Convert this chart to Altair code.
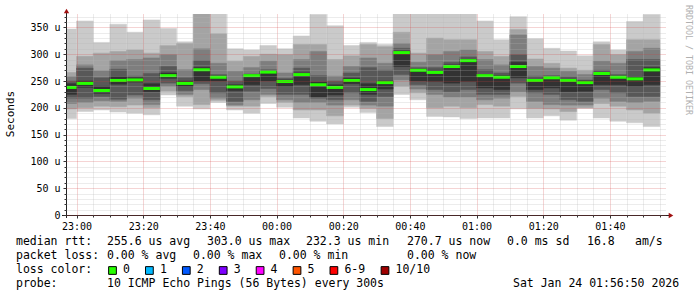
import altair as alt
import pandas as pd

# ---------------- data ----------------
slot_start = ["22:55", "23:00", "23:05", "23:10", "23:15", "23:20", "23:25", "23:30", "23:35",
              "23:40", "23:45", "23:50", "23:55", "00:00", "00:05", "00:10", "00:15", "00:20",
              "00:25", "00:30", "00:35", "00:40", "00:45", "00:50", "00:55", "01:00", "01:05",
              "01:10", "01:15", "01:20", "01:25", "01:30", "01:35", "01:40", "01:45", "01:50"]

# sorted ping rtts (us) per 5 minute slot
ping1 = [180, 193, 196, 192, 190, 187, 224, 203, 198, 210, 196, 190, 208, 201, 181, 175, 170, 201,
         191, 165, 225, 215, 184, 183, 180, 181, 181, 198, 181, 185, 177, 199, 181, 175, 172, 165]
ping2 = [198, 200, 203, 202, 205, 200, 231, 221, 206, 214, 203, 203, 221, 210, 196, 196, 185, 205,
         199, 180, 240, 228, 200, 203, 200, 206, 203, 221, 199, 198, 193, 200, 208, 203, 196, 190]
ping3 = [208, 210, 213, 212, 218, 206, 240, 225, 234, 218, 205, 215, 225, 215, 210, 210, 205, 215,
         205, 203, 252, 235, 225, 220, 220, 215, 218, 230, 212, 206, 205, 205, 218, 212, 210, 212]
ping4 = [218, 218, 221, 216, 224, 215, 246, 232, 245, 228, 212, 231, 236, 225, 225, 218, 215, 228,
         212, 221, 262, 243, 234, 230, 234, 225, 225, 246, 228, 225, 215, 212, 234, 228, 221, 221]
ping5 = [225, 238, 227, 244, 248, 230, 255, 240, 250, 250, 232, 243, 250, 240, 243, 220, 224, 245,
         225, 235, 277, 250, 249, 246, 249, 237, 234, 256, 234, 237, 230, 231, 243, 243, 240, 243]
ping6 = [245, 250, 240, 258, 256, 245, 265, 250, 275, 259, 243, 262, 268, 252, 265, 248, 243, 255,
         245, 250, 306, 272, 270, 280, 290, 262, 260, 285, 253, 258, 253, 250, 266, 259, 258, 275]
ping7 = [250, 274, 256, 272, 259, 264, 277, 256, 288, 262, 250, 263, 271, 255, 274, 260, 250, 265,
         275, 270, 311, 275, 275, 285, 295, 271, 265, 299, 259, 260, 258, 252, 270, 262, 290, 290]
ping8 = [258, 280, 269, 288, 290, 293, 299, 271, 310, 283, 268, 275, 287, 265, 290, 305, 259, 277,
         293, 283, 320, 285, 299, 305, 308, 290, 280, 336, 277, 274, 268, 262, 287, 283, 305, 311]
ping9 = [266, 296, 302, 305, 308, 302, 316, 320, 385, 338, 287, 296, 300, 299, 318, 318, 290, 297,
         318, 314, 341, 302, 330, 327, 327, 305, 296, 346, 291, 283, 274, 270, 318, 299, 327, 327]
ping10 = [347, 362, 322, 356, 341, 364, 348, 323, 420, 385, 310, 308, 316, 310, 334, 374, 353, 316,
          322, 318, 390, 390, 390, 390, 390, 362, 327, 370, 329, 311, 306, 297, 323, 308, 361, 374]
median = [238, 245.5, 232.3, 251, 252, 236, 260, 245.5, 271, 257, 239, 260, 266.6, 249, 262, 243,
          238, 251, 234, 247, 303.0, 270, 266, 277, 288, 260, 257, 277, 251, 256, 251, 247, 264, 257,
          254, 270.7]

x_tick_labels = ["23:00", "23:20", "23:40", "00:00", "00:20", "00:40", "01:00", "01:20", "01:40"]
y_tick_values = [0, 50, 100, 150, 200, 250, 300, 350]
y_tick_labels = ["0", "50 u", "100 u", "150 u", "200 u", "250 u", "300 u", "350 u"]

range_start = "22:56:50"
range_end = "01:56:50"
step_minutes = 5

smoke_colors = ["#cacaca", "#a4a4a4", "#7e7e7e", "#585858", "#323232"]
loss_labels = ["0", "1", "2", "3", "4", "5", "6-9", "10/10"]
loss_colors = ["#26ff00", "#00b8ff", "#0059ff", "#7e00ff", "#ff00ff", "#ff5500", "#ff0000", "#a00000"]

legend_rtt = ["median rtt:", "255.6 us avg", "303.0 us max", "232.3 us min", "270.7 us now",
              "0.0 ms sd", "16.8", "am/s"]
legend_loss = ["packet loss:", "0.00 % avg", "0.00 % max", "0.00 % min", "0.00 % now"]
legend_probe = ["probe:", "10 ICMP Echo Pings (56 Bytes) every 300s", "Sat Jan 24 01:56:50 2026"]


# ---------------- helpers ----------------
def to_min(s):
    parts = [int(p) for p in s.split(":")]
    h, m = parts[0], parts[1]
    sec = parts[2] if len(parts) > 2 else 0
    t = h * 60 + m + sec / 60.0
    if h < 12:
        t += 1440
    return t - 23 * 60


starts = [to_min(s) for s in slot_start]
ends = [s + step_minutes for s in starts]
x_lo, x_hi = to_min(range_start), to_min(range_end)
x_major = [to_min(s) for s in x_tick_labels]
x_minor = [v for v in range(0, int(x_hi), step_minutes) if v not in x_major]
y_minor = [v for v in range(10, 375, 10) if v not in y_tick_values]

pings = [ping1, ping2, ping3, ping4, ping5, ping6, ping7, ping8, ping9, ping10]

W, H = 600, 201
PAD_L, PAD_T = 66, 14

xscale = alt.Scale(domain=[x_lo, x_hi], nice=False, zero=False)
yscale = alt.Scale(domain=[0, 375], nice=False, zero=False)

FONT = "DejaVu Sans Mono"

x_lab_js = "[" + ",".join("'%s'" % s for s in x_tick_labels) + "]"
x_val_js = "[" + ",".join(str(v) for v in x_major) + "]"
y_lab_js = "[" + ",".join("'%s'" % s for s in y_tick_labels) + "]"
y_val_js = "[" + ",".join(str(v) for v in y_tick_values) + "]"

minor_x_axis = alt.Axis(values=x_minor, grid=True, gridColor="#b4b4b4", gridOpacity=0.5,
                        gridDash=[1, 1], labels=False, ticks=True, tickSize=2, tickColor="#333333",
                        domain=False, title=None, orient="bottom", zindex=1)
minor_y_axis = alt.Axis(values=y_minor, grid=True, gridColor="#b4b4b4", gridOpacity=0.5,
                        gridDash=[1, 1], labels=False, ticks=True, tickSize=2, tickColor="#333333",
                        domain=False, title=None, orient="left", zindex=1)
major_x_axis = alt.Axis(values=x_major, labelExpr=f"{x_lab_js}[indexof({x_val_js}, datum.value)]",
                        grid=True, gridColor="#d04040", gridOpacity=0.45, gridDash=[1, 1],
                        ticks=True, tickSize=3, tickColor="#333333", labelFont=FONT,
                        labelFontSize=10, labelColor="#000000", labelPadding=3, domain=False,
                        title=None, orient="bottom", zindex=1, labelFlush=False)
major_y_axis = alt.Axis(values=y_tick_values, labelExpr=f"{y_lab_js}[indexof({y_val_js}, datum.value)]",
                        grid=True, gridColor="#d04040", gridOpacity=0.45, gridDash=[1, 1],
                        ticks=True, tickSize=3, tickColor="#333333", labelFont=FONT,
                        labelFontSize=10, labelColor="#000000", labelPadding=3, domain=False,
                        title=None, orient="left", zindex=1, labelFlush=False)

df_med = pd.DataFrame({"start": starts, "end": ends, "median": median})

layers = []
# grid-only layer (minor grid)
layers.append(
    alt.Chart(df_med).mark_point(opacity=0).encode(
        x=alt.X("start:Q", scale=xscale, axis=minor_x_axis),
        y=alt.Y("median:Q", scale=yscale, axis=minor_y_axis),
    )
)
# smoke bands
for i, col in enumerate(smoke_colors):
    dfb = pd.DataFrame({"start": starts, "end": ends, "lo": pings[i], "hi": pings[9 - i]})
    layers.append(
        alt.Chart(dfb).mark_rect(color=col, stroke=col, strokeWidth=0.5, clip=True).encode(
            x=alt.X("start:Q", scale=xscale, axis=None),
            x2="end:Q",
            y=alt.Y("lo:Q", scale=yscale, axis=None),
            y2="hi:Q",
        )
    )
# median line (with major axes)
layers.append(
    alt.Chart(df_med).mark_rule(color=loss_colors[0], strokeWidth=3, clip=True).encode(
        x=alt.X("start:Q", scale=xscale, axis=major_x_axis),
        x2="end:Q",
        y=alt.Y("median:Q", scale=yscale, axis=major_y_axis),
    )
)

one = pd.DataFrame({"k": [0]})

# axis lines and arrows
layers.append(alt.Chart(one).mark_rule(color="#222222", strokeWidth=1).encode(
    x=alt.value(0.5), y=alt.value(-4), y2=alt.value(204)))
layers.append(alt.Chart(one).mark_rule(color="#222222", strokeWidth=1).encode(
    x=alt.value(-4), x2=alt.value(604), y=alt.value(201.5)))
layers.append(alt.Chart(one).mark_point(shape="triangle-up", filled=True, color="#a01010",
                                        size=28, opacity=1).encode(x=alt.value(0.5), y=alt.value(-3)))
layers.append(alt.Chart(one).mark_point(shape="triangle-right", filled=True, color="#a01010",
                                        size=28, opacity=1).encode(x=alt.value(605), y=alt.value(201.5)))


def txt(s, xa, ya, size=11.5, color="#000000", angle=0, align="left"):
    return alt.Chart(one).mark_text(text=s, font=FONT, fontSize=size, color=color, align=align,
                                    baseline="middle", angle=angle).encode(
        x=alt.value(xa - PAD_L), y=alt.value(ya - PAD_T))


# y title and watermark
layers.append(txt("Seconds", 11, 114, size=11, angle=270, align="center"))
layers.append(txt("RRDTOOL / TOBI OETIKER", 688, 60, size=8.3, color="#b0b0b0", angle=90, align="center"))

# legend lines
rtt_x = [16, 107, 207, 306, 407, 507, 587, 635]
for s, xa in zip(legend_rtt, rtt_x):
    layers.append(txt(s, xa, 241.5))
loss_x = [16, 107, 193, 279, 407]
for s, xa in zip(legend_loss, loss_x):
    layers.append(txt(s, xa, 255.5))
layers.append(txt("loss color:", 16, 269.5))
sq_x = [112.5, 149.4, 186.3, 223.2, 260.1, 297.0, 333.9, 385.0]
for lab, c, xa in zip(loss_labels, loss_colors, sq_x):
    layers.append(alt.Chart(one).mark_point(shape="square", filled=True, fill=c, stroke="#000000",
                                            strokeWidth=1, size=60, opacity=1).encode(
        x=alt.value(xa - PAD_L), y=alt.value(270.5 - PAD_T)))
    layers.append(txt(lab, xa + 10.5, 269.5))
probe_x = [16, 107, 513]
for s, xa in zip(legend_probe, probe_x):
    layers.append(txt(s, xa, 283.5))

chart = alt.layer(*layers).resolve_axis(x="independent", y="independent").properties(
    width=W, height=H,
    autosize=alt.AutoSizeParams(type="none"),
    padding={"left": PAD_L, "top": PAD_T, "right": 697 - PAD_L - W, "bottom": 297 - PAD_T - H},
    background="#ffffff",
).configure_view(stroke=None)

chart.save("out.html", embed_options={"renderer": "svg", "actions": False})
